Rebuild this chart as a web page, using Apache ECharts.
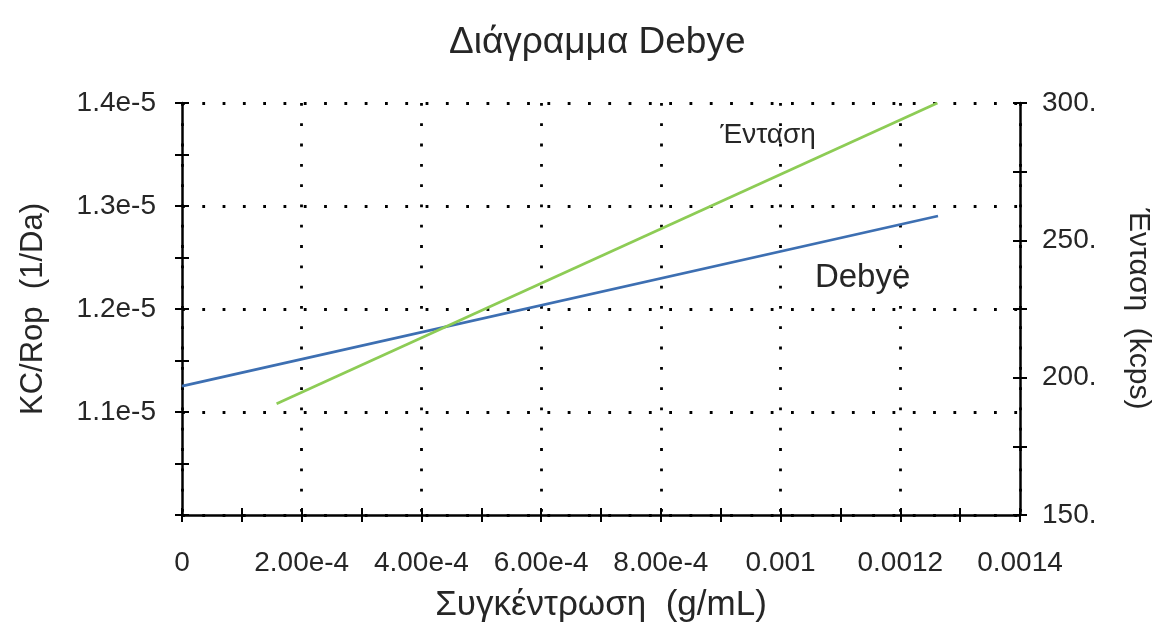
<!DOCTYPE html>
<html>
<head>
<meta charset="utf-8">
<script src="https://cdn.jsdelivr.net/npm/echarts@6/dist/echarts.min.js"></script>
<style>
  html, body { margin: 0; padding: 0; background: #fff; }
  #chart { width: 1161px; height: 637px; }
</style>
</head>
<body>
<div id="chart"></div>
<script>
// Debye plot: KC/Rop and scattered intensity versus concentration
const concentration = [0, 0.001263];            // g/mL, ends of the Debye fit line
const kcRop = [1.1252e-5, 1.2903e-5];           // 1/Da
const intensityConc = [0.000158, 0.001262];     // g/mL, ends of the intensity line
const intensity = [190.5, 300];                 // kcps

const xTickLabels = ['0', '2.00e-4', '4.00e-4', '6.00e-4', '8.00e-4', '0.001', '0.0012', '0.0014'];
const leftTickLabels = ['', '1.1e-5', '1.2e-5', '1.3e-5', '1.4e-5'];
const rightTickLabels = ['150.', '200.', '250.', '300.'];

const FONT = '"Liberation Sans", Arial, sans-serif';
const TXT = '#262626';

const xMin = 0, xMax = 0.0014, xStep = 2e-4;
const yMin = 1.0e-5, yMax = 1.4e-5, yStep = 1e-6;
const rMin = 150, rMax = 300, rStep = 50;

function xLabel(v) {
  const k = v / xStep;
  const i = Math.round(k);
  return Math.abs(k - i) < 1e-6 ? (xTickLabels[i] || '') : '';
}
function leftLabel(v) {
  const k = (v - yMin) / yStep;
  const i = Math.round(k);
  return Math.abs(k - i) < 1e-6 ? (leftTickLabels[i] || '') : '';
}
function rightLabel(v) {
  const k = (v - rMin) / rStep;
  const i = Math.round(k);
  return Math.abs(k - i) < 1e-6 ? (rightTickLabels[i] || '') : '';
}

const axisLineStyle = { color: '#000', width: 2.5 };
const tickStyle = { color: '#000', width: 2 };
const dotted = { color: '#000', width: 2.8, type: [2.8, 17.5] };
const labelText = { color: TXT, fontSize: 28, fontFamily: FONT };
const nameText = { color: TXT, fontSize: 31, fontFamily: FONT };

const chart = echarts.init(document.getElementById('chart'), null, { renderer: 'canvas' });

chart.setOption({
  backgroundColor: '#fff',
  animation: false,
  title: {
    text: 'Διάγραμμα Debye',
    left: 444,
    top: 19,
    textStyle: { color: TXT, fontSize: 37, fontWeight: 'normal', fontFamily: FONT }
  },
  grid: { left: 182, right: 137, top: 103, bottom: 122, containLabel: false },
  xAxis: [
    { // main concentration axis: line, outward ticks, labels, name
      type: 'value', position: 'bottom', min: xMin, max: xMax, interval: xStep / 2,
      axisLine: { show: true, lineStyle: axisLineStyle },
      axisTick: { show: true, inside: false, length: 7, lineStyle: tickStyle },
      axisLabel: Object.assign({ margin: 34, formatter: xLabel, showMinLabel: true, showMaxLabel: true }, labelText),
      splitLine: { show: false },
      name: 'Συγκέντρωση  (g/mL)', nameLocation: 'middle', nameGap: 73,
      nameTextStyle: Object.assign({}, nameText, { fontSize: 35 })
    },
    { // inward half of the crossing ticks
      type: 'value', position: 'bottom', min: xMin, max: xMax, interval: xStep / 2,
      axisLine: { show: false },
      axisTick: { show: true, inside: true, length: 7, lineStyle: tickStyle },
      axisLabel: { show: false }, splitLine: { show: false }
    },
    { // dotted vertical grid
      type: 'value', position: 'bottom', min: xMin, max: xMax, interval: xStep,
      axisLine: { show: false }, axisTick: { show: false }, axisLabel: { show: false },
      splitLine: { show: true, lineStyle: dotted }
    }
  ],
  yAxis: [
    { // KC/Rop axis
      type: 'value', position: 'left', min: yMin, max: yMax, interval: yStep / 2,
      axisLine: { show: true, lineStyle: axisLineStyle },
      axisTick: { show: true, inside: false, length: 7, lineStyle: tickStyle },
      axisLabel: Object.assign({ margin: 26, formatter: leftLabel }, labelText),
      splitLine: { show: false },
      name: 'KC/Rop  (1/Da)', nameLocation: 'middle', nameGap: 133,
      nameTextStyle: nameText
    },
    {
      type: 'value', position: 'left', min: yMin, max: yMax, interval: yStep / 2,
      axisLine: { show: false },
      axisTick: { show: true, inside: true, length: 7, lineStyle: tickStyle },
      axisLabel: { show: false }, splitLine: { show: false }
    },
    { // dotted horizontal grid
      type: 'value', position: 'left', min: yMin, max: yMax, interval: yStep,
      axisLine: { show: false }, axisTick: { show: false }, axisLabel: { show: false },
      splitLine: { show: true, lineStyle: dotted }
    },
    { // intensity axis
      type: 'value', position: 'right', min: rMin, max: rMax, interval: rStep / 2,
      axisLine: { show: true, lineStyle: axisLineStyle },
      axisTick: { show: true, inside: false, length: 7, lineStyle: tickStyle },
      axisLabel: Object.assign({ margin: 22, formatter: rightLabel }, labelText),
      splitLine: { show: false },
      name: 'Ένταση  (kcps)', nameLocation: 'middle', nameGap: 103, nameRotate: -90,
      nameTextStyle: Object.assign({}, nameText, { fontSize: 30 })
    },
    {
      type: 'value', position: 'right', min: rMin, max: rMax, interval: rStep / 2,
      axisLine: { show: false },
      axisTick: { show: true, inside: true, length: 7, lineStyle: tickStyle },
      axisLabel: { show: false }, splitLine: { show: false }
    }
  ],
  series: [
    {
      name: 'Debye', type: 'line', xAxisIndex: 0, yAxisIndex: 0,
      data: concentration.map((c, i) => [c, kcRop[i]]),
      showSymbol: false, symbol: 'none',
      lineStyle: { color: '#3d6fb2', width: 2.8 },
      markPoint: {
        symbol: 'circle', symbolSize: 0,
        label: { show: true, position: 'inside', formatter: 'Debye', color: TXT, fontSize: 33, fontFamily: FONT },
        data: [{ coord: [0.001137, 1.23e-5] }]
      },
      z: 3
    },
    {
      name: 'Ένταση', type: 'line', xAxisIndex: 0, yAxisIndex: 3,
      data: intensityConc.map((c, i) => [c, intensity[i]]),
      showSymbol: false, symbol: 'none',
      lineStyle: { color: '#8dcc55', width: 2.8 },
      markPoint: {
        symbol: 'circle', symbolSize: 0,
        label: { show: true, position: 'inside', formatter: 'Ένταση', color: TXT, fontSize: 28, fontFamily: FONT },
        data: [{ coord: [0.000979, 288.3] }]
      },
      z: 3
    }
  ]
});
</script>
</body>
</html>
